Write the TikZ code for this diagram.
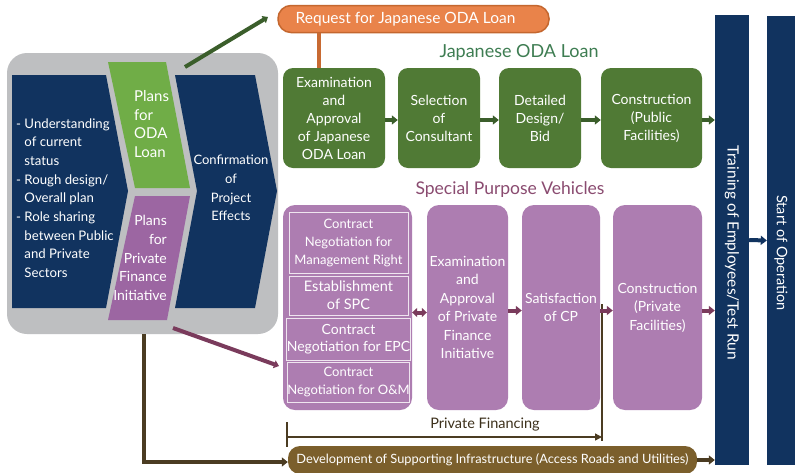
\documentclass[tikz,border=0pt]{standalone}
\usepackage{fontspec}
\setmainfont{Lato}
\usetikzlibrary{arrows.meta}
\definecolor{navy}{HTML}{11335F}
\definecolor{grayc}{HTML}{BEBFC1}
\definecolor{lightgreen}{HTML}{70AD47}
\definecolor{midpurple}{HTML}{9C66A2}
\definecolor{odagreen}{HTML}{507A35}
\definecolor{spvpurple}{HTML}{AD7DB1}
\definecolor{orangefill}{HTML}{E9834A}
\definecolor{orangeline}{HTML}{C4672F}
\definecolor{brownbox}{HTML}{7B5F2C}
\definecolor{brownline}{HTML}{4B3C22}
\definecolor{arrgreen}{HTML}{3B5E2B}
\definecolor{arrpurple}{HTML}{7A3B5C}
\definecolor{titlegreen}{HTML}{3E7D52}
\definecolor{titlepurple}{HTML}{8A4B70}
\newcommand{\fsz}[2]{\fontsize{#1}{#2}\selectfont}
\begin{document}
\begin{tikzpicture}[x=1pt,y=-1pt,
  box/.style={draw=none, rounded corners=10pt, inner sep=0pt, align=center, text=white},
  odabox/.style={box, fill=odagreen, minimum height=100pt, font=\fsz{14}{18}},
  spvbox/.style={box, fill=spvpurple, rounded corners=12pt, minimum height=205pt, font=\fsz{14}{18.5}},
  subbox/.style={draw=white!80!spvpurple, line width=0.9pt, fill=spvpurple, inner sep=0pt, minimum width=119pt, align=center, text=white},
  bar/.style={fill=navy, inner sep=0pt},
  garrow/.style={-{Triangle[length=6pt,width=9pt]}, line width=4pt, draw=arrgreen},
  parrow/.style={-{Triangle[length=6pt,width=9pt]}, line width=4pt, draw=arrpurple},
  pdarrow/.style={{Triangle[length=5pt,width=9pt]}-{Triangle[length=5pt,width=9pt]}, line width=4pt, draw=arrpurple},
  narrow/.style={-{Triangle[length=6pt,width=9pt]}, line width=4pt, draw=navy},
  barrow/.style={-{Triangle[length=6pt,width=9pt]}, line width=4pt, draw=brownline},
  thinline/.style={line width=1.4pt, draw=brownline},
  thinarrow/.style={-{Triangle[length=7pt,width=7pt]}, line width=1.4pt, draw=brownline},
  whitetext/.style={text=white, inner sep=0pt}
]
\useasboundingbox (0,0) rectangle (795,472);
\fill[white] (0,0) rectangle (795,472);

% gray planning panel
\node[fill=grayc, rounded corners=20pt, minimum width=271pt, minimum height=281pt, inner sep=0pt] (gray) at (142.5,193.5) {};

% chevrons and plan shapes
\fill[navy] (12,75) -- (106,75) -- (128,191) -- (106,308) -- (12,308) -- cycle;
\fill[lightgreen] (108,62) -- (166,62) -- (190,188) -- (135,188) -- cycle;
\fill[midpurple] (135,196) -- (190,196) -- (167,320) -- (108,320) -- cycle;
\fill[navy] (175,75) -- (255,75) -- (277,191) -- (255,308) -- (175,308) -- (197,191) -- cycle;

\node[whitetext, font=\fsz{13.2}{18.7}, align=left, anchor=west] (lefttext) at (16,198)
  {- Understanding\\\phantom{- }of current\\\phantom{- }status\\- Rough design/\\\phantom{- }Overall plan\\- Role sharing\\\phantom{- }between Public\\\phantom{- }and Private\\\phantom{- }Sectors};
\node[whitetext, font=\fsz{15}{18.4}, align=left, anchor=west] (odaplan) at (134,124)
  {Plans\\for\\ODA\\Loan};
\node[whitetext, font=\fsz{14}{18.6}, align=right, anchor=east] (pfiplan) at (167,258)
  {Plans\\for\\Private\\Finance\\Initiative};
\node[whitetext, font=\fsz{13}{18.7}, align=center] (confirm) at (231,188)
  {Confirmation\\of\\Project\\Effects};

% request box
\node[box, fill=orangefill, draw=orangeline, line width=1.5pt, rounded corners=13pt, minimum width=271pt, minimum height=27pt, font=\fsz{15.5}{17}] (req) at (413.5,19) {Request for Japanese ODA Loan\hspace*{16pt}};

% titles
\node[text=titlegreen, font=\fsz{18}{20}, inner sep=0pt] (odatitle) at (519,53) {Japanese ODA Loan};
\node[text=titlepurple, font=\fsz{17.5}{20}, inner sep=0pt] (spvtitle) at (510,190) {Special Purpose Vehicles};

% ODA boxes
\node[odabox, minimum width=102pt] (o1) at (334,118) {Examination\\and\\Approval\\of Japanese\\ODA Loan};
\node[odabox, minimum width=82pt] (o2) at (439,118) {Selection\\of\\Consultant};
\node[odabox, minimum width=82pt] (o3) at (540,118) {Detailed\\Design/\\Bid};
\node[odabox, minimum width=101pt] (o4) at (651.5,118) {Construction\\(Public\\Facilities)};

% SPV boxes
\node[spvbox, minimum width=129pt] (p1) at (347.5,307.5) {};
\node[spvbox, minimum width=81pt] (p2) at (467.5,307.5) {Examination\\and\\Approval\\of Private\\Finance\\Initiative};
\node[spvbox, minimum width=78pt] (p3) at (561,307.5) {Satisfaction\\of CP};
\node[spvbox, minimum width=89pt] (p4) at (657.5,307.5) {Construction\\(Private\\Facilities)};
\node[subbox, minimum height=61pt, font=\fsz{13}{18}] (s1) at (348.5,242.5) {Contract\\Negotiation for\\Management Right};
\node[subbox, minimum height=39pt, font=\fsz{14.5}{18}] (s2) at (348.5,295.5) {Establishment\\of SPC};
\node[subbox, minimum height=42pt, font=\fsz{14}{17.5}] (s3) at (348.5,339) {Contract\\Negotiation for EPC};
\node[subbox, minimum height=40pt, font=\fsz{13}{18}] (s4) at (348.5,382) {Contract\\Negotiation for O\&M};

% right bars
\node[bar, minimum width=34pt, minimum height=450pt] (train) at (732,240) {};
\node[bar, minimum width=28pt, minimum height=449pt] (start) at (781,240.5) {};
\node[whitetext, rotate=-90, font=\fsz{15.5}{18}] (traintext) at (732,253) {Training of Employees/Test Run};
\node[whitetext, rotate=-90, font=\fsz{14.5}{18}] (starttext) at (781,253) {Start of Operation};

% development box
\node[box, fill=brownbox, rounded corners=12pt, minimum width=409pt, minimum height=28pt, font=\fsz{12.8}{15}] (dev) at (492.5,460) {Development of Supporting Infrastructure (Access Roads and Utilities)};

% request connectors
\draw[orangeline!90!orangefill, line width=4pt] (req.south -| 319,0) -- (o1.north -| 319,0);
\coordinate (gstart) at (185,67);
\coordinate (gend) at (268,17);
\draw[-{Triangle[length=5pt,width=8pt]}, line width=4pt, draw=arrgreen] (gstart) -- (gend);
\coordinate (pstart) at (173,328);
\coordinate (pend) at (279,366);
\draw[-{Triangle[length=5pt,width=8pt]}, line width=4pt, draw=arrpurple] (pstart) -- (pend);

% ODA arrows
\draw[garrow] ([yshift=-2pt]o1.east) -- ([yshift=-2pt]o2.west);
\draw[garrow] ([yshift=-2pt]o2.east) -- ([yshift=-2pt]o3.west);
\draw[garrow] ([yshift=-2pt]o3.east) -- ([yshift=-2pt]o4.west);
\draw[garrow] ([yshift=-2pt]o4.east) -- ([yshift=-2pt]o4.east -| train.west);

% SPV arrows
\draw[pdarrow] ([yshift=-5pt]p1.east) -- ([yshift=-5pt]p2.west);
\draw[parrow] ([yshift=-3pt]p2.east) -- ([yshift=-3pt]p3.west);
\coordinate (cptop) at (602,304);
\coordinate (cpbot) at (602,441);
\draw[thinline] (cptop) -- (cpbot);
\draw[parrow] ([yshift=-3pt]p3.east) -- ([yshift=-3pt]p4.west);
\draw[parrow] ([yshift=-3pt]p4.east) -- ([yshift=-3pt]p4.east -| train.west);

% bar arrow
\draw[narrow] (train.east) -- (start.west);

% private financing
\coordinate (pftop) at (287,422);
\coordinate (pfbot) at (287,447);
\coordinate (pfstart) at (287,437);
\coordinate (pfend) at (602,437);
\draw[thinline] (pftop) -- (pfbot);
\draw[thinarrow] (pfstart) -- (pfend);
\node[text=brownline!80!black, font=\fsz{14.5}{17}, inner sep=0pt] (pflabel) at (485,425) {Private Financing};

% development connectors
\coordinate (lcorner) at (144,462);
\draw[barrow] (gray.south -| 144,0) -- (lcorner) -- (dev.west |- lcorner);
\draw[barrow] (dev.east) -- (dev.east -| train.west);
\end{tikzpicture}
\end{document}
